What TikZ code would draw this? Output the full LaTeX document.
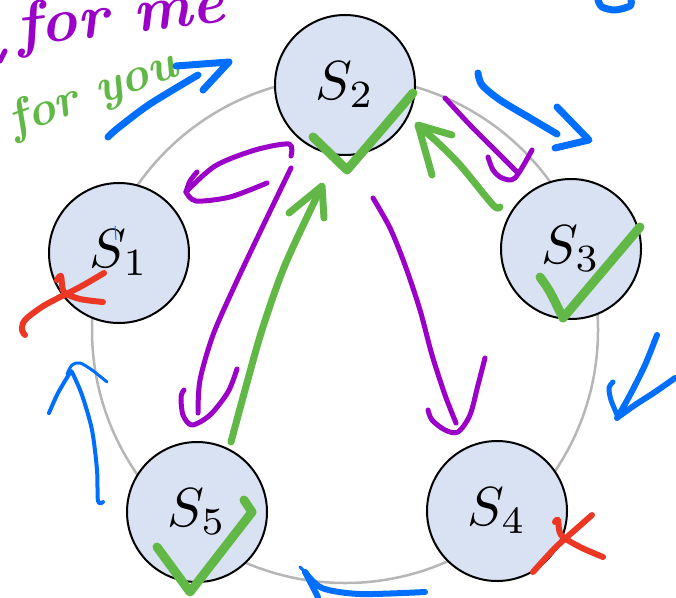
\documentclass[tikz,border=0pt]{standalone}
\usepackage{graphicx}
\definecolor{penpurple}{RGB}{155,0,200}
\definecolor{pengreen}{RGB}{98,184,70}
\definecolor{penblue}{RGB}{0,110,255}
\definecolor{penred}{RGB}{235,55,35}
\definecolor{ringgray}{RGB}{182,182,182}
\definecolor{nodefill}{RGB}{217,226,243}
\newcommand{\statelabel}[1]{\scalebox{5.5}{$S_{#1}$}}
\begin{document}
\begin{tikzpicture}[x=1pt,y=-1pt,
  statenode/.style={circle, draw=black, line width=2pt, fill=nodefill, minimum size=140pt, inner sep=0pt},
  ring/.style={draw=ringgray, line width=2.5pt},
  pp/.style={draw=penpurple, line width=5pt, line cap=round, line join=round},
  pg/.style={draw=pengreen, line width=7pt, line cap=round, line join=round},
  pgc/.style={draw=pengreen, line width=9pt, line cap=round, line join=round},
  pb/.style={draw=penblue, line width=7pt, line cap=round, line join=round},
  pbt/.style={draw=penblue, line width=4pt, line cap=round, line join=round},
  pr/.style={draw=penred, line width=6pt, line cap=round, line join=round},
  hand/.style={inner sep=0pt, anchor=base west}
]
\useasboundingbox (0,0) rectangle (676,597);
\clip (0,0) rectangle (676,597);

% ring
\draw[ring] (345,330) circle[radius=253];

% states
\node[statenode] (s2) at (345,85) {\statelabel{2}};
\node[statenode] (s1) at (119,253) {\statelabel{1}};
\node[statenode] (s3) at (571,249) {\statelabel{3}};
\node[statenode] (s4) at (497,511) {\statelabel{4}};
\node[statenode] (s5) at (197,512) {\statelabel{5}};

% handwritten labels
\node[hand, text=penpurple, font=\bfseries\itshape\fontsize{62}{62}\selectfont, rotate=7] (forme) at (18,47) {for me};
\node[hand, text=pengreen, font=\bfseries\itshape\fontsize{48}{48}\selectfont, rotate=20] (foryou) at (14,136) {for you};
\draw[pp] (0,61) -- (5,51);

% blue arrows
\draw[pb] plot[smooth] coordinates {(108,137) (118,128) (150,104) (198,75)};
\draw[pb] (176,66) -- (229,62) -- (203,90);
\draw[pb] plot[smooth] coordinates {(478,73) (482,85) (500,100) (530,118) (557,134)};
\draw[pb] (557,107) -- (589,140) -- (555,148);
\draw[pb] plot[smooth] coordinates {(598,0) (602,7) (615,10) (630,6) (631,0)};
\draw[pb, line width=6pt] plot[smooth] coordinates {(657,335) (645,365) (630,395) (617,418)};
\draw[pb, line width=5pt] plot[smooth] coordinates {(613,382) (609,388) (611,400) (618,417)};
\draw[pb, line width=6pt] plot[smooth] coordinates {(618,417) (635,405) (655,392) (675,378)};
\draw[pb, line width=6pt] plot[smooth] coordinates {(305,572) (322,588) (360,594) (425,592)};
\draw[pb, line width=6pt] (305,572) -- (318,597);
\draw[pb, line width=3pt] (300,567) -- (305,572);
\draw[pbt] plot[smooth] coordinates {(103,502) (98,501) (97,470) (92,430) (82,395) (72,372)};
\draw[pbt] plot[smooth] coordinates {(49,413) (58,393) (71,371)};
\draw[pbt, line width=3pt] plot[smooth] coordinates {(67,374) (72,365) (80,363) (92,370) (107,382)};
\draw[penblue, line width=1pt] (115,226) -- (116,240);

% purple arrows
\draw[pp] plot[smooth] coordinates {(291,156) (289,144) (255,150) (215,166) (186,192)};
\draw[pp] plot[smooth] coordinates {(186,192) (196,201) (230,197) (267,183)};
\draw[pp] plot[smooth] coordinates {(197,172) (190,181) (186,192)};
\draw[pp] plot[smooth] coordinates {(291,168) (262,228) (235,285) (213,335) (200,380) (198,413)};
\draw[pp] plot[smooth] coordinates {(184,390) (181,397) (183,415) (192,425) (210,415) (228,392) (237,369)};
\draw[pp] plot[smooth] coordinates {(373,198) (390,228) (405,265) (420,310) (432,355) (445,395) (456,423)};
\draw[pp] plot[smooth] coordinates {(428,410) (432,420) (445,430) (458,432) (470,415) (478,385) (485,358)};
\draw[pp] plot[smooth] coordinates {(445,98) (470,125) (495,150) (517,172)};
\draw[pp] plot[smooth] coordinates {(488,157) (493,170) (502,178) (515,178) (532,150)};

% green arrows
\draw[pg] plot[smooth] coordinates {(231,442) (245,390) (262,330) (285,265) (320,190)};
\draw[pg] (289,213) -- (322,186) -- (324,218);
\draw[pg] plot[smooth] coordinates {(500,207) (493,205) (460,165) (435,140) (418,126)};
\draw[pg] (432,175) -- (418,125) -- (452,135);

% checks
\draw[pgc] (313,137) -- (347,170) -- (413,93);
\draw[pgc] plot[smooth] coordinates {(540,277) (550,292) (563,318)};
\draw[pgc] (563,318) -- (640,227);
\draw[pgc] (157,547) -- (190,592) -- (252,512) -- (244,500);

% crosses
\draw[pr] plot[smooth] coordinates {(104,273) (80,287) (45,305) (25,320) (22,330) (25,335)};
\draw[pr] plot[smooth] coordinates {(57,280) (61,276) (64,292) (80,299) (103,302)};
\draw[pr] plot[smooth] coordinates {(592,515) (575,530) (555,548) (533,572)};
\draw[pr] plot[smooth] coordinates {(555,522) (558,520) (561,535) (580,547) (603,557)};
\end{tikzpicture}
\end{document}
